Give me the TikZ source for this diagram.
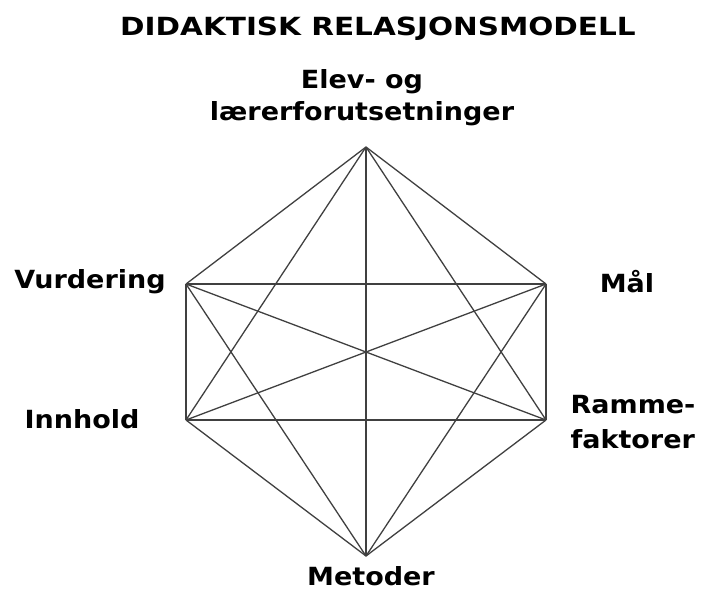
\documentclass[tikz,border=0pt]{standalone}
\usepackage{fontspec}
\setmainfont{DejaVu Sans}[BoldFeatures={FakeStretch=1.08}]
\newfontfamily\titlefont{DejaVu Sans Bold}[FakeStretch=1.18]
\begin{document}
\begin{tikzpicture}[x=1pt,y=-1pt,
  lbl/.style={font=\fontsize{25}{32}\selectfont\bfseries, inner sep=0pt, anchor=base},
  edge/.style={draw=black!75, line width=1.3pt}]
\useasboundingbox (0,0) rectangle (703,590);
\coordinate (T) at (366,147);
\coordinate (UL) at (186,284);
\coordinate (UR) at (546,284);
\coordinate (LL) at (186,420);
\coordinate (LR) at (546,420);
\coordinate (B) at (366,556);
\foreach \a/\b in {T/UL,T/UR,T/LL,T/LR,T/B,UL/UR,UL/LL,UL/LR,UL/B,UR/LL,UR/LR,UR/B,LL/LR,LL/B,LR/B}
  \draw[edge] (\a) -- (\b);
\node[lbl, font=\fontsize{25}{30}\titlefont] (title) at (378,35) {DIDAKTISK RELASJONSMODELL};
\node[lbl, align=center] (elev) at (362,120) {Elev- og\\lærerforutsetninger};
\node[lbl] (vurd) at (90,288) {Vurdering};
\node[lbl] (maal) at (627,292) {Mål};
\node[lbl] (innh) at (82,428) {Innhold};
\node[lbl, align=left, font=\fontsize{25}{35}\selectfont\bfseries] (ramme) at (633,448) {Ramme-\\faktorer};
\node[lbl] (met) at (371,585) {Metoder};
\end{tikzpicture}
\end{document}
